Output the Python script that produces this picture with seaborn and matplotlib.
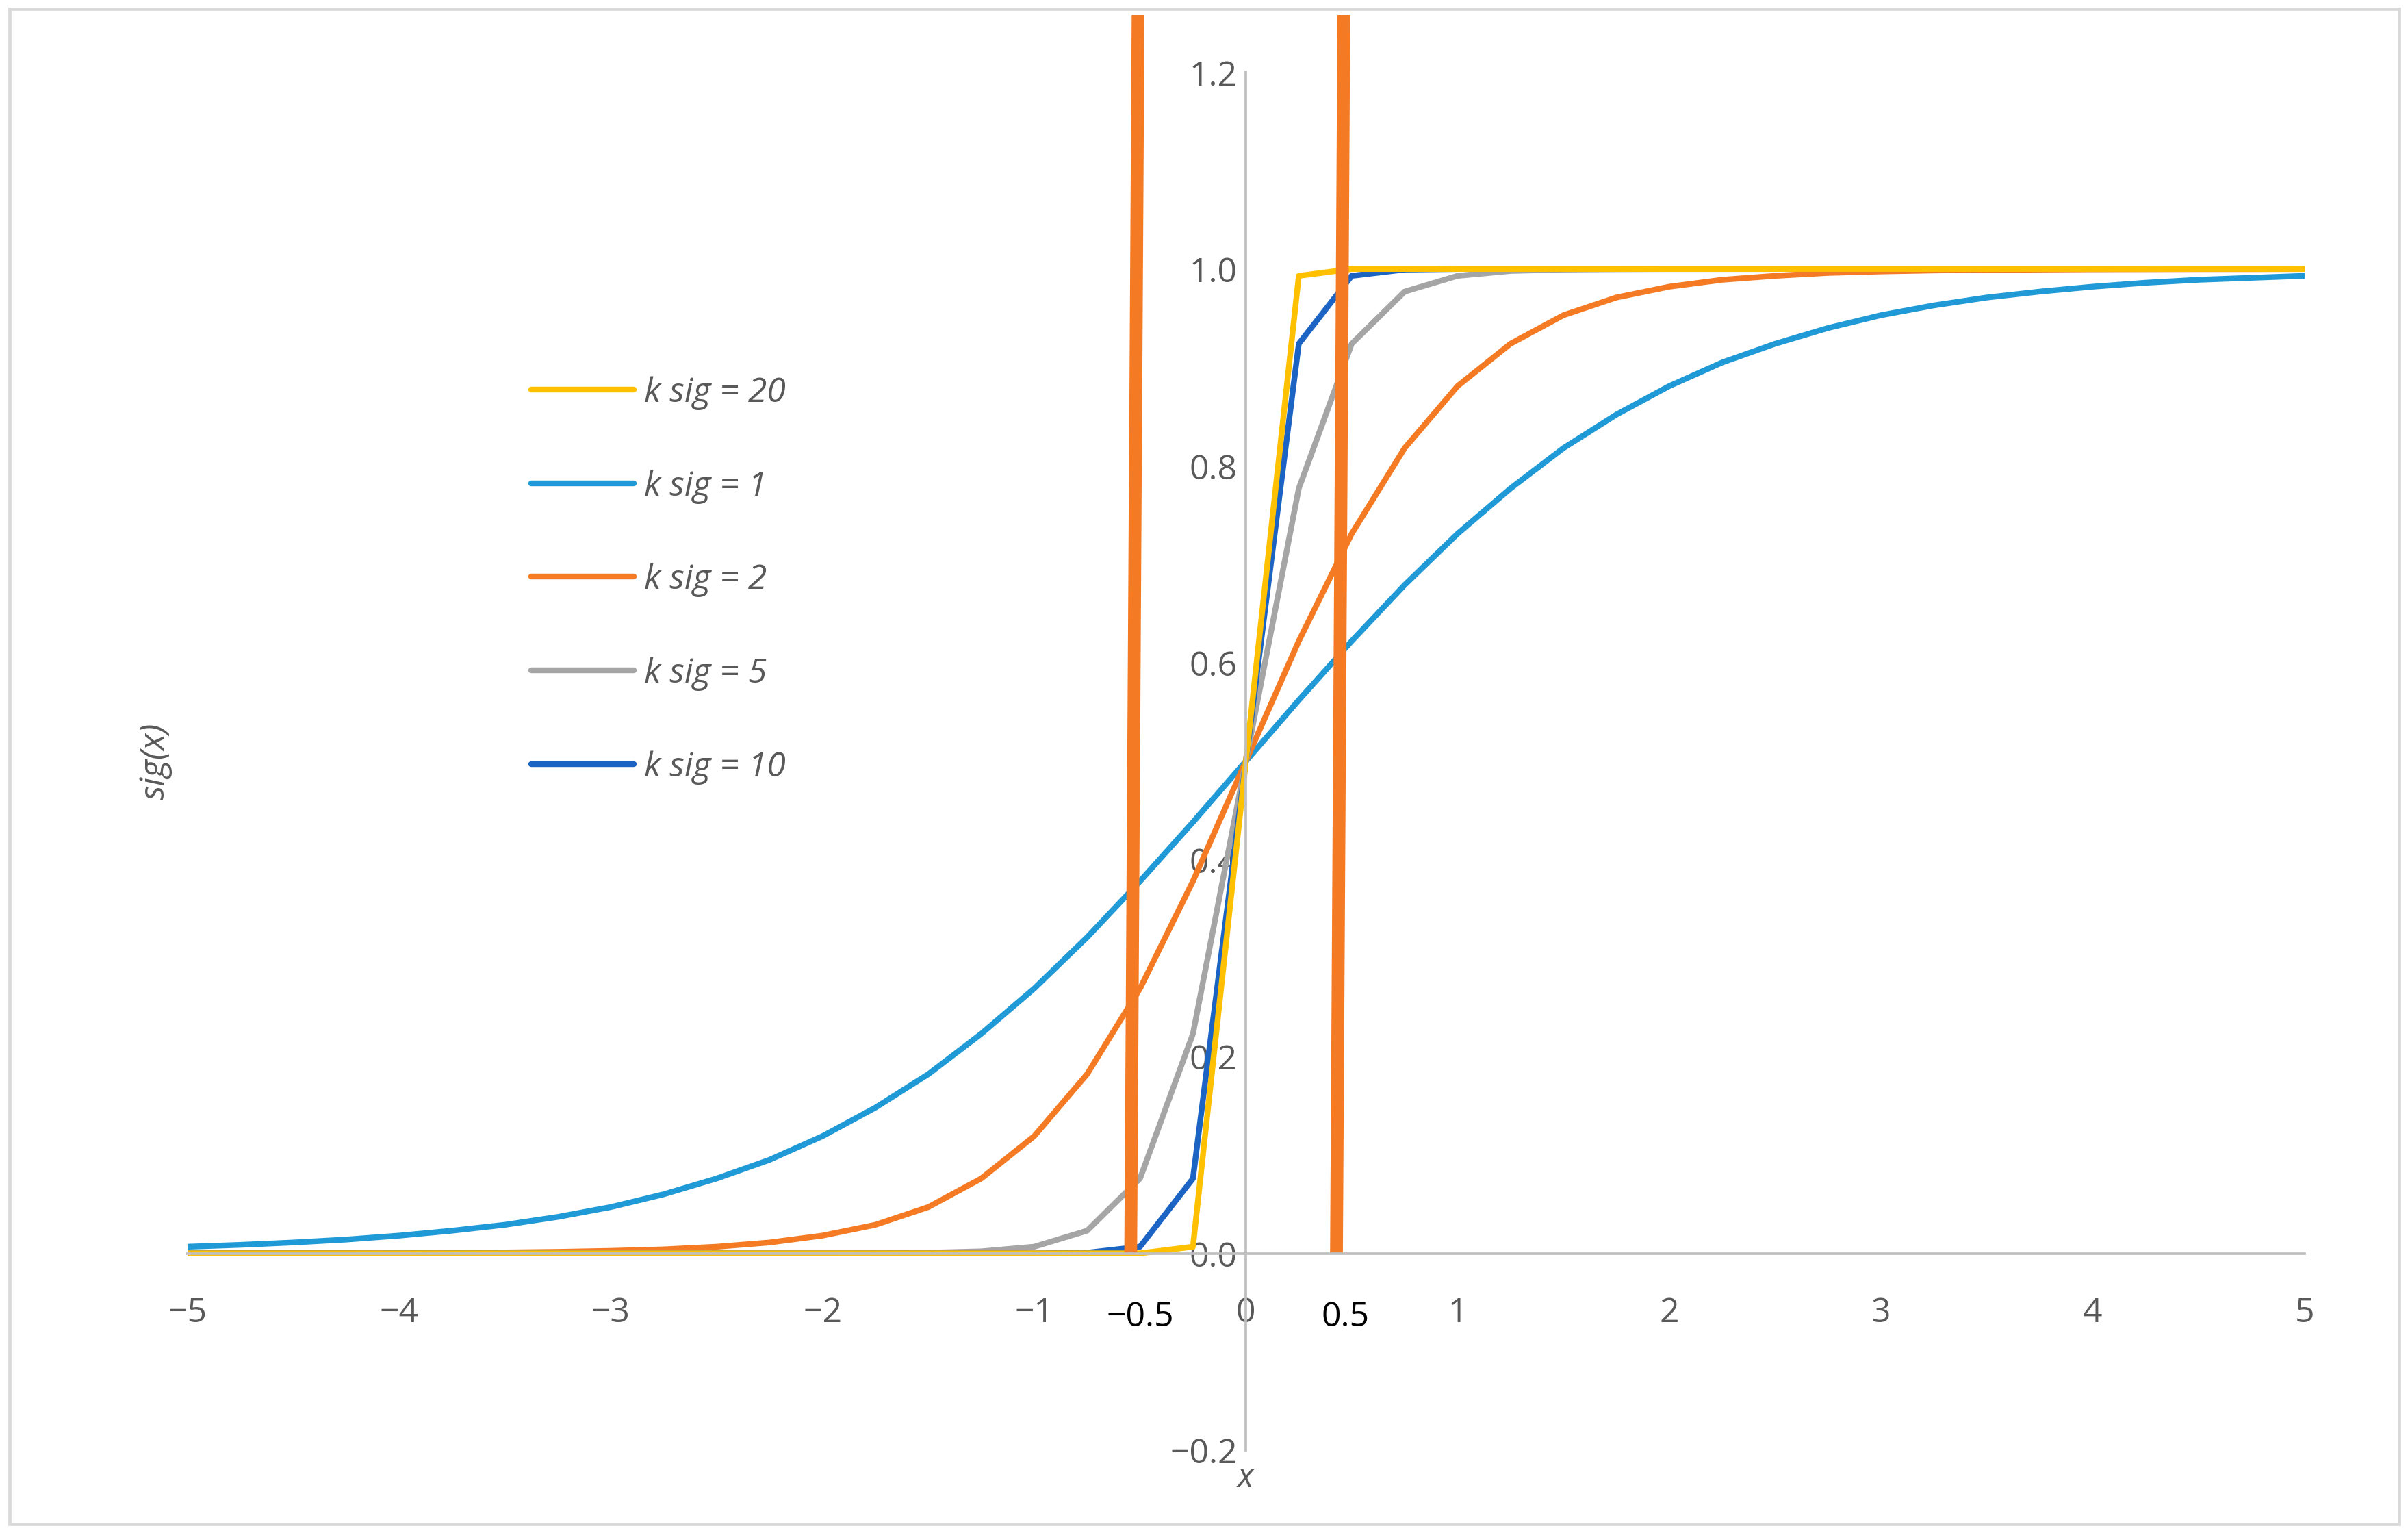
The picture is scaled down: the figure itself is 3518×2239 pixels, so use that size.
import matplotlib
matplotlib.use("Agg")
import matplotlib.pyplot as plt
import seaborn as sns
import pandas as pd

# x sampled every 0.25 from -5 to 5
x = [-5.0, -4.75, -4.5, -4.25, -4.0, -3.75, -3.5, -3.25, -3.0, -2.75, -2.5, -2.25, -2.0,
     -1.75, -1.5, -1.25, -1.0, -0.75, -0.5, -0.25, 0.0, 0.25, 0.5, 0.75, 1.0, 1.25, 1.5,
     1.75, 2.0, 2.25, 2.5, 2.75, 3.0, 3.25, 3.5, 3.75, 4.0, 4.25, 4.5, 4.75, 5.0]

k1 = [0.0067, 0.0086, 0.011, 0.014, 0.018, 0.023, 0.029, 0.037, 0.047, 0.060, 0.076, 0.095, 0.119,
      0.148, 0.182, 0.223, 0.269, 0.321, 0.378, 0.438, 0.5, 0.562, 0.622, 0.679, 0.731, 0.777, 0.818,
      0.852, 0.881, 0.905, 0.924, 0.940, 0.953, 0.963, 0.971, 0.977, 0.982, 0.986, 0.989, 0.991, 0.993]
k2 = [0.0, 0.0001, 0.0001, 0.0002, 0.0003, 0.0006, 0.0009, 0.0015, 0.0025, 0.004, 0.0067, 0.011, 0.018,
      0.029, 0.047, 0.076, 0.119, 0.182, 0.269, 0.378, 0.5, 0.622, 0.731, 0.818, 0.881, 0.924, 0.953,
      0.971, 0.982, 0.989, 0.993, 0.996, 0.9975, 0.9985, 0.9991, 0.9994, 0.9997, 0.9998, 0.9999, 0.9999, 1.0]
k5 = [0.0, 0.0, 0.0, 0.0, 0.0, 0.0, 0.0, 0.0, 0.0, 0.0, 0.0, 0.0, 0.0,
      0.0002, 0.0006, 0.002, 0.0067, 0.023, 0.076, 0.223, 0.5, 0.777, 0.924, 0.977, 0.993, 0.998, 0.9994,
      0.9998, 1.0, 1.0, 1.0, 1.0, 1.0, 1.0, 1.0, 1.0, 1.0, 1.0, 1.0, 1.0, 1.0]
k10 = [0.0, 0.0, 0.0, 0.0, 0.0, 0.0, 0.0, 0.0, 0.0, 0.0, 0.0, 0.0, 0.0,
       0.0, 0.0, 0.0, 0.0, 0.0006, 0.0067, 0.076, 0.5, 0.924, 0.993, 0.9994, 1.0, 1.0, 1.0,
       1.0, 1.0, 1.0, 1.0, 1.0, 1.0, 1.0, 1.0, 1.0, 1.0, 1.0, 1.0, 1.0, 1.0]
k20 = [0.0, 0.0, 0.0, 0.0, 0.0, 0.0, 0.0, 0.0, 0.0, 0.0, 0.0, 0.0, 0.0,
       0.0, 0.0, 0.0, 0.0, 0.0, 0.0, 0.0067, 0.5, 0.993, 1.0, 1.0, 1.0, 1.0, 1.0,
       1.0, 1.0, 1.0, 1.0, 1.0, 1.0, 1.0, 1.0, 1.0, 1.0, 1.0, 1.0, 1.0, 1.0]

series = {"k sig = 1": (k1, "#1f9ad6"), "k sig = 2": (k2, "#f47a24"),
          "k sig = 5": (k5, "#a5a5a5"), "k sig = 10": (k10, "#1c64c4"),
          "k sig = 20": (k20, "#ffc000")}
legend_order = ["k sig = 20", "k sig = 1", "k sig = 2", "k sig = 5", "k sig = 10"]

# the two hand-drawn orange bars (slightly tilted): bottom / top x
bar_bottom = [-0.544, 0.428]
bar_top = [-0.508, 0.464]
bar_y = [0.0, 1.3]

sns.set_style("white")
plt.rcParams["font.family"] = ["Open Sans", "DejaVu Sans"]

fig = plt.figure(figsize=(15.68, 9.98), dpi=224.4)
ax = fig.add_axes([0.0778, 0.054, 0.879, 0.936])

handles = {}
for name, (vals, col) in series.items():
    df = pd.DataFrame({"x": x, "y": vals})
    sns.lineplot(data=df, x="x", y="y", color=col, linewidth=2.7, ax=ax)
    handles[name] = ax.lines[-1]

for b, t in zip(bar_bottom, bar_top):
    ax.plot([b, t], bar_y, color="#f47a24", linewidth=6.0, solid_capstyle="butt")

ax.set_xlim(-5, 5)
ax.set_ylim(-0.2, 1.258)
ax.spines["left"].set_position(("data", 0))
ax.spines["bottom"].set_position(("data", 0))
ax.spines["left"].set_bounds(-0.2, 1.2)
for s in ["left", "bottom"]:
    ax.spines[s].set_color("#bfbfbf")
    ax.spines[s].set_linewidth(1.2)
for s in ["top", "right"]:
    ax.spines[s].set_visible(False)

ax.set_xticks([-5, -4, -3, -2, -1, 0, 1, 2, 3, 4, 5])
ax.set_xticklabels(["\u22125", "\u22124", "\u22123", "\u22122", "\u22121", "0", "1", "2", "3", "4", "5"])
ax.set_yticks([-0.2, 0.0, 0.2, 0.4, 0.6, 0.8, 1.0, 1.2])
ax.set_yticklabels(["\u22120.2", "0.0", "0.2", "0.4", "0.6", "0.8", "1.0", "1.2"])
ax.tick_params(axis="both", length=0, labelsize=16, labelcolor="#595959")
ax.tick_params(axis="x", pad=20)
ax.tick_params(axis="y", pad=4)
ax.set_xlabel("")
ax.set_ylabel("")

ax.text(0, -0.228, "x", style="italic", fontsize=16, color="#595959", ha="center", va="center")
ax.text(-5.15, 0.5, "sig(x)", style="italic", fontsize=16, color="#595959",
        rotation=90, ha="center", va="center")
ax.text(-0.5, -0.065, "\u22120.5", fontsize=16, color="black", ha="center", va="center")
ax.text(0.47, -0.065, "0.5", fontsize=16, color="black", ha="center", va="center")

ax.legend([handles[n] for n in legend_order], legend_order, loc="upper left",
          bbox_to_anchor=(0.148, 0.77), frameon=False, handlelength=3.0,
          labelspacing=1.75, handletextpad=0.3, prop={"style": "italic", "size": 16},
          labelcolor="#595959")

fig.patches.append(plt.Rectangle((0.004, 0.006), 0.992, 0.988, transform=fig.transFigure,
                                 fill=False, edgecolor="#d9d9d9", linewidth=1.5))

fig.savefig("out.png", dpi=224.4)
